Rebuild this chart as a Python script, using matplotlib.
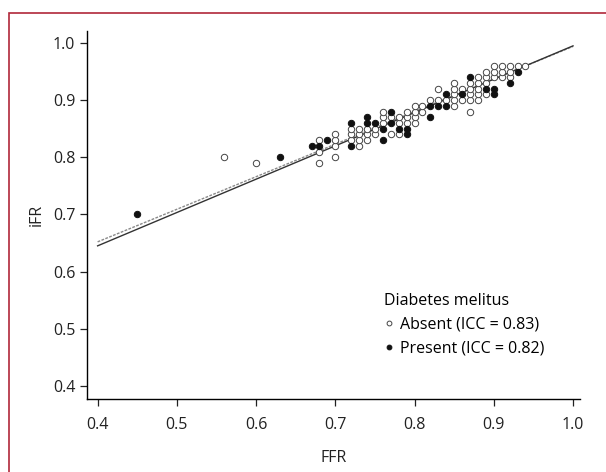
import numpy as np
import matplotlib
matplotlib.use("Agg")
import matplotlib.pyplot as plt
from matplotlib.patches import Rectangle

plt.rcParams['font.family'] = ['Open Sans', 'DejaVu Sans']

# diabetes absent (open circles)
absent_ffr = [0.56, 0.60, 0.68, 0.68, 0.68, 0.70, 0.70, 0.70, 0.70,
              0.72, 0.72, 0.72, 0.73, 0.73, 0.73, 0.73, 0.74, 0.74, 0.74,
              0.75, 0.75, 0.76, 0.76, 0.76, 0.77, 0.77, 0.78, 0.78, 0.78,
              0.79, 0.79, 0.79, 0.80, 0.80, 0.80, 0.80, 0.81, 0.81,
              0.82, 0.83, 0.83, 0.84,
              0.85, 0.85, 0.85, 0.85, 0.85, 0.86, 0.86,
              0.87, 0.87, 0.87, 0.87, 0.87,
              0.88, 0.88, 0.88, 0.88, 0.88,
              0.89, 0.89, 0.89, 0.89,
              0.90, 0.90, 0.90, 0.91, 0.91, 0.91,
              0.92, 0.92, 0.92, 0.93, 0.94]
absent_ifr = [0.80, 0.79, 0.79, 0.81, 0.83, 0.80, 0.82, 0.83, 0.84,
              0.83, 0.84, 0.85, 0.82, 0.83, 0.84, 0.85, 0.83, 0.84, 0.85,
              0.84, 0.85, 0.86, 0.87, 0.88, 0.84, 0.87, 0.84, 0.86, 0.87,
              0.86, 0.87, 0.88, 0.86, 0.87, 0.88, 0.89, 0.88, 0.89,
              0.90, 0.90, 0.92, 0.90,
              0.89, 0.90, 0.91, 0.92, 0.93, 0.90, 0.92,
              0.88, 0.90, 0.91, 0.92, 0.93,
              0.90, 0.91, 0.92, 0.93, 0.94,
              0.91, 0.93, 0.94, 0.95,
              0.94, 0.95, 0.96, 0.94, 0.95, 0.96,
              0.94, 0.95, 0.96, 0.96, 0.96]

# diabetes present (filled circles)
present_ffr = [0.45, 0.63, 0.67, 0.68, 0.69, 0.72, 0.72, 0.74, 0.74,
               0.75, 0.76, 0.76, 0.77, 0.77, 0.78, 0.79, 0.79,
               0.82, 0.82, 0.83, 0.84, 0.84, 0.86, 0.87,
               0.89, 0.90, 0.90, 0.92, 0.93]
present_ifr = [0.70, 0.80, 0.82, 0.82, 0.83, 0.86, 0.82, 0.87, 0.86,
               0.86, 0.85, 0.83, 0.88, 0.86, 0.85, 0.85, 0.84,
               0.89, 0.87, 0.89, 0.91, 0.89, 0.91, 0.94,
               0.92, 0.92, 0.91, 0.93, 0.95]

# regression lines (slope, intercept)
fit_absent = [0.5700, 0.4240]
fit_present = [0.5833, 0.4117]

xticks = [0.4, 0.5, 0.6, 0.7, 0.8, 0.9, 1.0]
yticks = [0.4, 0.5, 0.6, 0.7, 0.8, 0.9, 1.0]

fig = plt.figure(figsize=(6.06, 4.72), dpi=100)
ax = fig.add_axes([87/606, 1 - 399/472, (580-87)/606, (399-31)/472])

xx = np.array([0.4, 1.0])
ax.plot(xx, np.polyval(fit_absent, xx), color='#8a8a8a', lw=1.0, ls=(0, (2, 1)))
ax.plot(xx, np.polyval(fit_present, xx), color='#333333', lw=1.0)

ax.plot(absent_ffr, absent_ifr, 'o', ms=4.6, mfc='white', mec='#444444', mew=0.7,
        ls='none', label='Absent (ICC = 0.83)')
ax.plot(present_ffr, present_ifr, 'o', ms=4.6, mfc='#111111', mec='#111111', mew=0.7,
        ls='none', label='Present (ICC = 0.82)')

ax.set_xlim(0.3866, 1.0088)
ax.set_ylim(0.377, 1.021)
ax.set_xticks(xticks)
ax.set_yticks(yticks)
ax.set_xticklabels([f'{t:.1f}' for t in xticks])
ax.set_yticklabels([f'{t:.1f}' for t in yticks])
ax.tick_params(direction='out', length=5, width=0.9, labelsize=11.5, colors='#222222')
ax.tick_params(axis='x', pad=8)
for s in ['top', 'right']:
    ax.spines[s].set_visible(False)
for s in ['left', 'bottom']:
    ax.spines[s].set_linewidth(1.0)

ax.set_xlabel('FFR', fontsize=11.5, color='#222222', labelpad=12)
ax.set_ylabel('iFR', fontsize=11.5, color='#222222', labelpad=6)

leg = ax.legend(title='Diabetes melitus', loc='upper left', bbox_to_anchor=(376/606, 1 - 285/472),
                bbox_transform=fig.transFigure, frameon=False, fontsize=11.5, title_fontsize=11.5,
                handlelength=0.6, handletextpad=0.4, borderpad=0, labelspacing=0.5,
                markerscale=0.75, alignment='left')

fig.patches.append(Rectangle((8.5/606, -0.1), 2, 1.1 - 12.5/472, fill=False, ec='#b0283a',
                             lw=1.2, transform=fig.transFigure, figure=fig))

plt.savefig('out.png', dpi=100)
